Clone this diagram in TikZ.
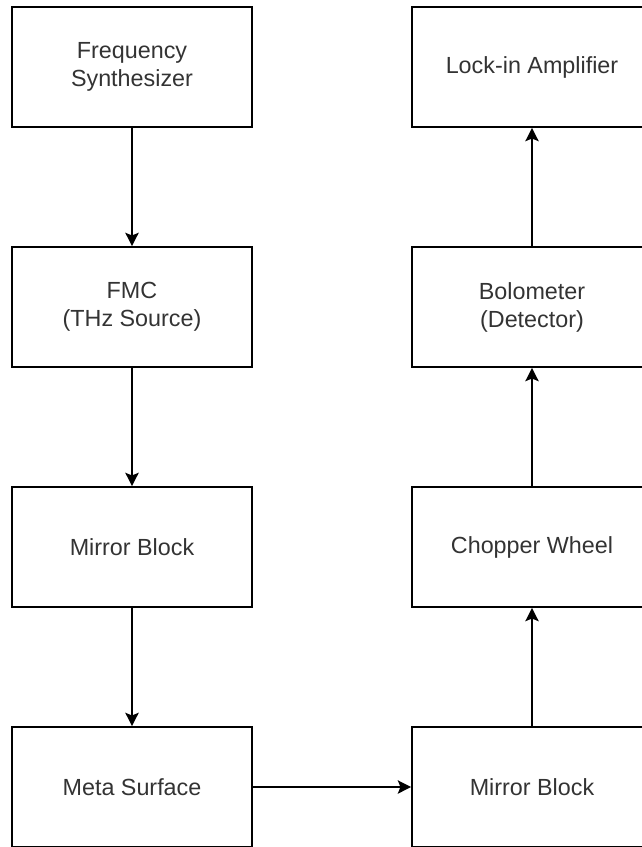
\documentclass[tikz,border=0pt]{standalone}
\usepackage{fontspec}
\setmainfont{Liberation Sans}
\usetikzlibrary{arrows.meta}
\begin{document}
\begin{tikzpicture}[x=0.75pt,y=-0.75pt,
  blk/.style={draw=black, line width=1.3pt, minimum width=180pt, minimum height=90pt,
    align=center, font=\fontsize{17.5}{21}\selectfont, text=black!80, inner sep=0pt},
  arr/.style={line width=1.3pt, -{Stealth[length=10pt,width=10pt,inset=2pt]}}]
\useasboundingbox (0,0) rectangle (642,847);
\clip (0,0) rectangle (642,847);
\node[blk] (fs) at (132,67) {Frequency\\Synthesizer};
\node[blk] (fmc) at (132,307) {FMC\\(THz Source)};
\node[blk] (mb1) at (132,547) {Mirror Block};
\node[blk] (ms) at (132,787) {Meta Surface};
\node[blk] (li) at (532,67) {Lock-in Amplifier};
\node[blk] (bo) at (532,307) {Bolometer\\(Detector)};
\node[blk] (cw) at (532,547) {Chopper Wheel};
\node[blk] (mb2) at (532,787) {Mirror Block};
\draw[arr] (fs) -- (fmc);
\draw[arr] (fmc) -- (mb1);
\draw[arr] (mb1) -- (ms);
\draw[arr] (ms) -- (mb2);
\draw[arr] (mb2) -- (cw);
\draw[arr] (cw) -- (bo);
\draw[arr] (bo) -- (li);
\end{tikzpicture}
\end{document}
